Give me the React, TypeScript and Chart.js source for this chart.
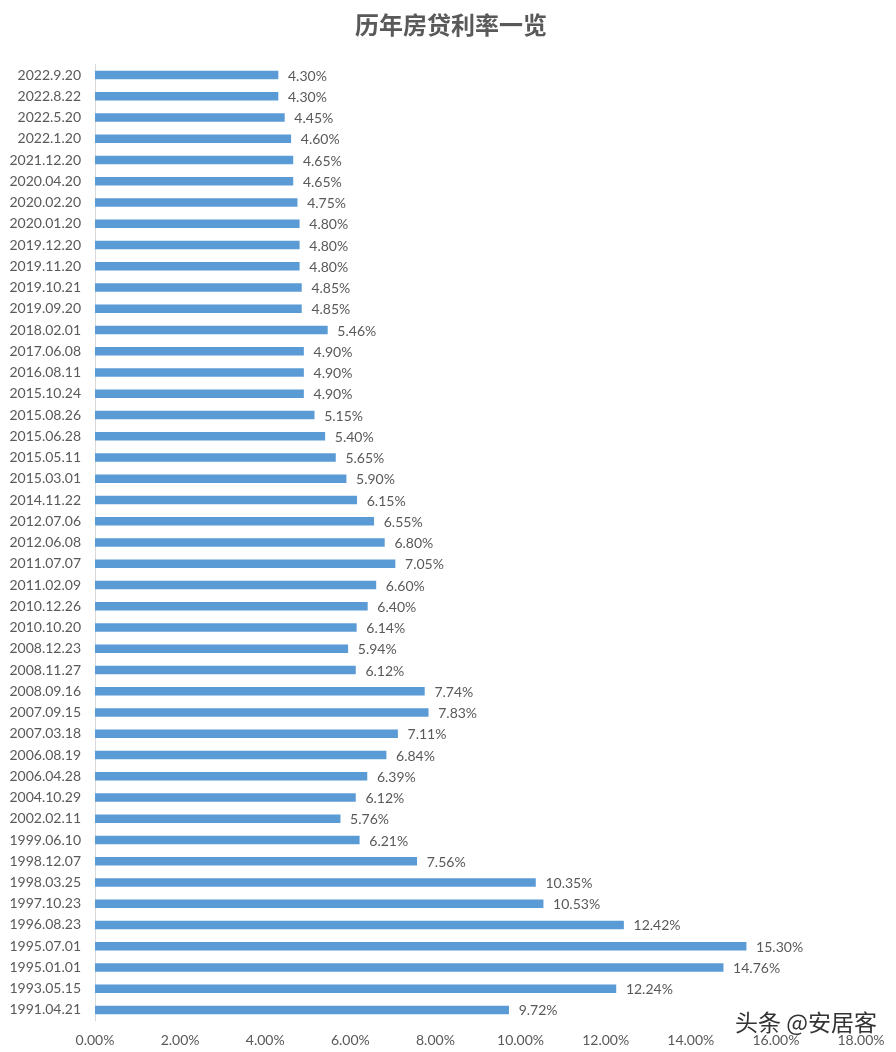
import React, { useEffect, useRef } from "react";
import { Chart, registerables } from "chart.js";

Chart.register(...registerables);

const TITLE = "历年房贷利率一览";
const WATERMARK = "头条 @安居客";

const dates = [
  "2022.9.20", "2022.8.22", "2022.5.20", "2022.1.20", "2021.12.20", "2020.04.20",
  "2020.02.20", "2020.01.20", "2019.12.20", "2019.11.20", "2019.10.21", "2019.09.20",
  "2018.02.01", "2017.06.08", "2016.08.11", "2015.10.24", "2015.08.26", "2015.06.28",
  "2015.05.11", "2015.03.01", "2014.11.22", "2012.07.06", "2012.06.08", "2011.07.07",
  "2011.02.09", "2010.12.26", "2010.10.20", "2008.12.23", "2008.11.27", "2008.09.16",
  "2007.09.15", "2007.03.18", "2006.08.19", "2006.04.28", "2004.10.29", "2002.02.11",
  "1999.06.10", "1998.12.07", "1998.03.25", "1997.10.23", "1996.08.23", "1995.07.01",
  "1995.01.01", "1993.05.15", "1991.04.21",
];

const rates = [
  4.30, 4.30, 4.45, 4.60, 4.65, 4.65,
  4.75, 4.80, 4.80, 4.80, 4.85, 4.85,
  5.46, 4.90, 4.90, 4.90, 5.15, 5.40,
  5.65, 5.90, 6.15, 6.55, 6.80, 7.05,
  6.60, 6.40, 6.14, 5.94, 6.12, 7.74,
  7.83, 7.11, 6.84, 6.39, 6.12, 5.76,
  6.21, 7.56, 10.35, 10.53, 12.42, 15.30,
  14.76, 12.24, 9.72,
];

const xMin = 0;
const xMax = 18;
const xStep = 2;

const FONT = "Lato, 'Noto Sans', sans-serif";
const TEXT_COLOR = "#595959";

const titlePlugin = {
  id: "customTitle",
  afterDraw(chart: any) {
    const ctx = chart.ctx;
    ctx.save();
    ctx.font = `bold 24px 'Noto Sans CJK SC', sans-serif`;
    ctx.fillStyle = TEXT_COLOR;
    ctx.textAlign = "center";
    ctx.textBaseline = "middle";
    ctx.fillText(TITLE, 451, 25);
    ctx.restore();
  },
};

const dataLabelPlugin = {
  id: "dataLabels",
  afterDatasetsDraw(chart: any) {
    const ctx = chart.ctx;
    const meta = chart.getDatasetMeta(0);
    const ds = chart.data.datasets[0];
    ctx.save();
    ctx.font = `14px ${FONT}`;
    ctx.fillStyle = TEXT_COLOR;
    ctx.textAlign = "left";
    ctx.textBaseline = "middle";
    meta.data.forEach((bar: any, i: number) => {
      const v = ds.data[i] as number;
      ctx.fillText(v.toFixed(2) + "%", bar.x + 10, bar.y + 1);
    });
    ctx.restore();
  },
};

export default function App() {
  const canvasRef = useRef<HTMLCanvasElement | null>(null);

  useEffect(() => {
    if (!canvasRef.current) return;
    const chart = new Chart(canvasRef.current, {
      type: "bar",
      data: {
        labels: dates,
        datasets: [
          {
            data: rates,
            backgroundColor: "#5B9BD5",
            barThickness: 8,
          },
        ],
      },
      options: {
        indexAxis: "y",
        animation: false,
        responsive: false,
        maintainAspectRatio: false,
        layout: { padding: { left: 0, right: 35, top: 64.4, bottom: 0 } },
        plugins: {
          legend: { display: false },
          tooltip: { enabled: false },
          title: { display: false },
        },
        scales: {
          x: {
            min: xMin,
            max: xMax,
            grid: { display: false, drawTicks: false },
            border: { display: false },
            ticks: {
              stepSize: xStep,
              color: TEXT_COLOR,
              font: { family: FONT, size: 14 },
              padding: 11,
              callback: (v: any) => Number(v).toFixed(2) + "%",
            },
            afterFit: (scale: any) => {
              scale.height = 31.4;
            },
          },
          y: {
            grid: { display: false, drawTicks: false },
            border: { display: true, color: "#D9D9D9", width: 1 },
            ticks: {
              color: TEXT_COLOR,
              font: { family: FONT, size: 14 },
              padding: 14,
              autoSkip: false,
            },
            afterFit: (scale: any) => {
              scale.width = 95;
            },
          },
        },
      },
      plugins: [dataLabelPlugin, titlePlugin],
    });
    return () => chart.destroy();
  }, []);

  return (
    <div style={{ position: "absolute", left: 0, top: 0, width: 896, height: 1052, background: "#fff" }}>
      <canvas ref={canvasRef} width={896} height={1052} />
      <div
        style={{
          position: "absolute",
          left: 735,
          top: 1006,
          fontFamily: "'Noto Sans CJK SC', sans-serif",
          fontSize: 23,
          color: "#333",
          lineHeight: "30px",
          textShadow: "0 0 2px #fff, 0 0 2px #fff",
          whiteSpace: "nowrap",
        }}
      >
        {WATERMARK}
      </div>
    </div>
  );
}
